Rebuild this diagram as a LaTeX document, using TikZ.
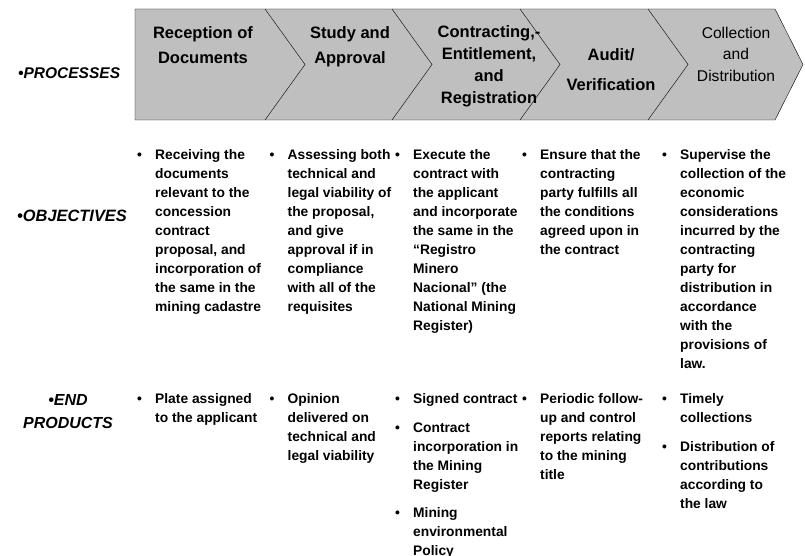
\documentclass[tikz,border=0pt]{standalone}
\usepackage{fontspec}
\setmainfont{Liberation Sans}
\usetikzlibrary{calc}
\newcommand{\pointlist}[1]{\begin{tabular}[t]{@{}p{18pt}@{}l@{}}#1\end{tabular}}

\begin{document}
\begin{tikzpicture}[x=1pt,y=-1pt,
  stage/.style={align=center,inner sep=0pt,font=\bfseries\fontsize{16.5}{25}\selectfont},
  rowlabel/.style={anchor=base west,inner sep=0pt,font=\bfseries\itshape\fontsize{15.5}{23}\selectfont},
  points/.style={anchor=base west,inner sep=0pt,font=\bfseries\fontsize{13.8}{19}\selectfont}]
\useasboundingbox (0,0) rectangle (805,556);
\coordinate (topL) at (135,9);
\coordinate (botL) at (135,120);
\coordinate (tip) at (803,64.5);
\draw[fill=lightgray] (topL) -- (775,9) -- (tip) -- (775,120) -- (botL) -- cycle;
\foreach \x in {265,392,520,648}
  \draw (\x,9) -- ++(40,55.5) -- (\x,120);
\node[stage] (reception) at (203,45.5) {Reception of\\Documents};
\node[stage] (study) at (350,47) {Study and\\Approval};
\node[stage,font=\bfseries\fontsize{16.5}{22}\selectfont] (contracting) at (489,66.5) {Contracting,-\\Entitlement,\\and\\Registration};
\node[stage,font=\bfseries\fontsize{16.5}{30}\selectfont] (audit) at (611,70) {Audit/\\Verification};
\node[stage,font=\fontsize{15.6}{21.5}\selectfont] (collection) at (736,54) {Collection\\and\\Distribution};

\node[rowlabel] (processes) at (18,78.5) {\textbullet PROCESSES};
\node[rowlabel,font=\bfseries\itshape\fontsize{16.4}{23}\selectfont] (objectives) at (17,221) {\textbullet OBJECTIVES};
\node[rowlabel,anchor=center,align=center,font=\bfseries\itshape\fontsize{16}{23}\selectfont] (products) at (68,411.5) {\textbullet END\\PRODUCTS};

% objectives
\node[points] (obj1) at (137,160) {\pointlist{\textbullet & Receiving the\\ & documents\\ & relevant to the\\ & concession\\ & contract\\ & proposal, and\\ & incorporation of\\ & the same in the\\ & mining cadastre}};
\node[points] (obj2) at (269.5,160) {\pointlist{\textbullet & Assessing both\\ & technical and\\ & legal viability of\\ & the proposal,\\ & and give\\ & approval if in\\ & compliance\\ & with all of the\\ & requisites}};
\node[points] (obj3) at (395,160) {\pointlist{\textbullet & Execute the\\ & contract with\\ & the applicant\\ & and incorporate\\ & the same in the\\ & “Registro\\ & Minero\\ & Nacional” (the\\ & National Mining\\ & Register)}};
\node[points] (obj4) at (522,160) {\pointlist{\textbullet & Ensure that the\\ & contracting\\ & party fulfills all\\ & the conditions\\ & agreed upon in\\ & the contract}};
\node[points] (obj5) at (662,160) {\pointlist{\textbullet & Supervise the\\ & collection of the\\ & economic\\ & considerations\\ & incurred by the\\ & contracting\\ & party for\\ & distribution in\\ & accordance\\ & with the\\ & provisions of\\ & law.}};

% end products
\node[points] (end1) at (137,403) {\pointlist{\textbullet & Plate assigned\\ & to the applicant}};
\node[points] (end2) at (269.5,403) {\pointlist{\textbullet & Opinion\\ & delivered on\\ & technical and\\ & legal viability}};
\node[points] (end3) at (395,403) {\pointlist{\textbullet & Signed contract\\[10pt] \textbullet & Contract\\ & incorporation in\\ & the Mining\\ & Register\\[9pt] \textbullet & Mining\\ & environmental\\ & Policy}};
\node[points] (end4) at (522,403) {\pointlist{\textbullet & Periodic follow-\\ & up and control\\ & reports relating\\ & to the mining\\ & title}};
\node[points] (end5) at (662,403) {\pointlist{\textbullet & Timely\\ & collections\\[10pt] \textbullet & Distribution of\\ & contributions\\ & according to\\ & the law}};
\end{tikzpicture}
\end{document}
